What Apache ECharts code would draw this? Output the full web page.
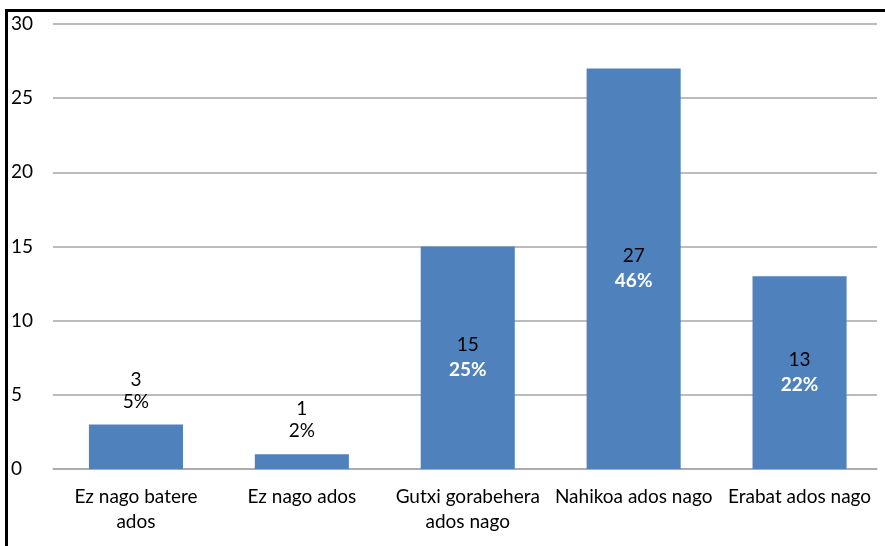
<!DOCTYPE html>
<html>
<head>
<meta charset="utf-8">
<script src="https://cdn.jsdelivr.net/npm/echarts@6/dist/echarts.min.js"></script>
<style>
html,body{margin:0;padding:0;background:#fff;}
#c{width:885px;height:546px;}
</style>
</head>
<body>
<div id="c"></div>
<script>
const categories = ['Ez nago batere ados', 'Ez nago ados', 'Gutxi gorabehera ados nago', 'Nahikoa ados nago', 'Erabat ados nago'];
const tickLabels = ['Ez nago batere\nados', 'Ez nago ados', 'Gutxi gorabehera\nados nago', 'Nahikoa ados nago', 'Erabat ados nago'];
const values = [3, 1, 15, 27, 13];
const percents = ['5%', '2%', '25%', '46%', '22%'];
const yTicks = [0, 5, 10, 15, 20, 25, 30];

const FONT = 'Lato';
const FS = 19;
const chart = echarts.init(document.getElementById('c'));

const data = values.map((v, i) => {
  const inside = v >= 5;
  return {
    value: v,
    label: inside ? {
      position: 'inside',
      formatter: '{a|' + v + '}\n{b|' + percents[i] + '}',
      rich: {
        a: {color: '#000', fontSize: FS, fontFamily: FONT, lineHeight: 25},
        b: {color: '#fff', fontSize: FS, fontFamily: FONT, fontWeight: 'bold', lineHeight: 25}
      }
    } : {
      position: 'top',
      distance: 12,
      formatter: '{a|' + v + '}\n{b|' + percents[i] + '}',
      rich: {
        a: {color: '#000', fontSize: FS, fontFamily: FONT, lineHeight: 22},
        b: {color: '#000', fontSize: FS, fontFamily: FONT, lineHeight: 22}
      }
    }
  };
});

const yMin = yTicks[0], yMax = yTicks[yTicks.length - 1];

chart.setOption({
  animation: false,
  backgroundColor: '#fff',
  grid: [
    {left: 53, right: 8, top: 24, bottom: 77, containLabel: false},
    {left: 53, right: 2.5, top: 24, bottom: 77, containLabel: false}
  ],
  graphic: [
    {type: 'line', shape: {x1: 6.5, y1: 9, x2: 6.5, y2: 546}, style: {stroke: '#000', lineWidth: 3}},
    {type: 'line', shape: {x1: 5, y1: 10.5, x2: 885, y2: 10.5}, style: {stroke: '#000', lineWidth: 3}}
  ],
  xAxis: [{
    gridIndex: 0,
    type: 'category',
    data: categories,
    axisTick: {show: false},
    axisLabel: {show: false},
    axisLine: {lineStyle: {color: '#a6a6a6', width: 1.5}}
  }, {
    gridIndex: 1,
    type: 'category',
    data: categories,
    axisTick: {show: false},
    axisLine: {show: false},
    axisLabel: {
      interval: 0,
      color: '#000',
      fontSize: FS,
      fontFamily: FONT,
      lineHeight: 25,
      margin: 15,
      formatter: (val, idx) => tickLabels[idx]
    }
  }],
  yAxis: [{
    gridIndex: 0,
    type: 'value',
    min: yMin,
    max: yMax,
    interval: 5,
    axisLine: {show: false},
    axisTick: {show: false},
    splitLine: {lineStyle: {color: '#a6a6a6', width: 1.5}},
    axisLabel: {
      color: '#000',
      fontSize: FS,
      fontFamily: FONT,
      align: 'left',
      margin: 42
    }
  }, {
    gridIndex: 1,
    type: 'value',
    min: yMin,
    max: yMax,
    interval: 5,
    show: false,
    splitLine: {show: false}
  }],
  series: [{
    type: 'bar',
    xAxisIndex: 1,
    yAxisIndex: 1,
    data: data,
    barWidth: '56.7%',
    itemStyle: {color: '#4f81bd'},
    label: {show: true}
  }]
});
</script>
</body>
</html>
